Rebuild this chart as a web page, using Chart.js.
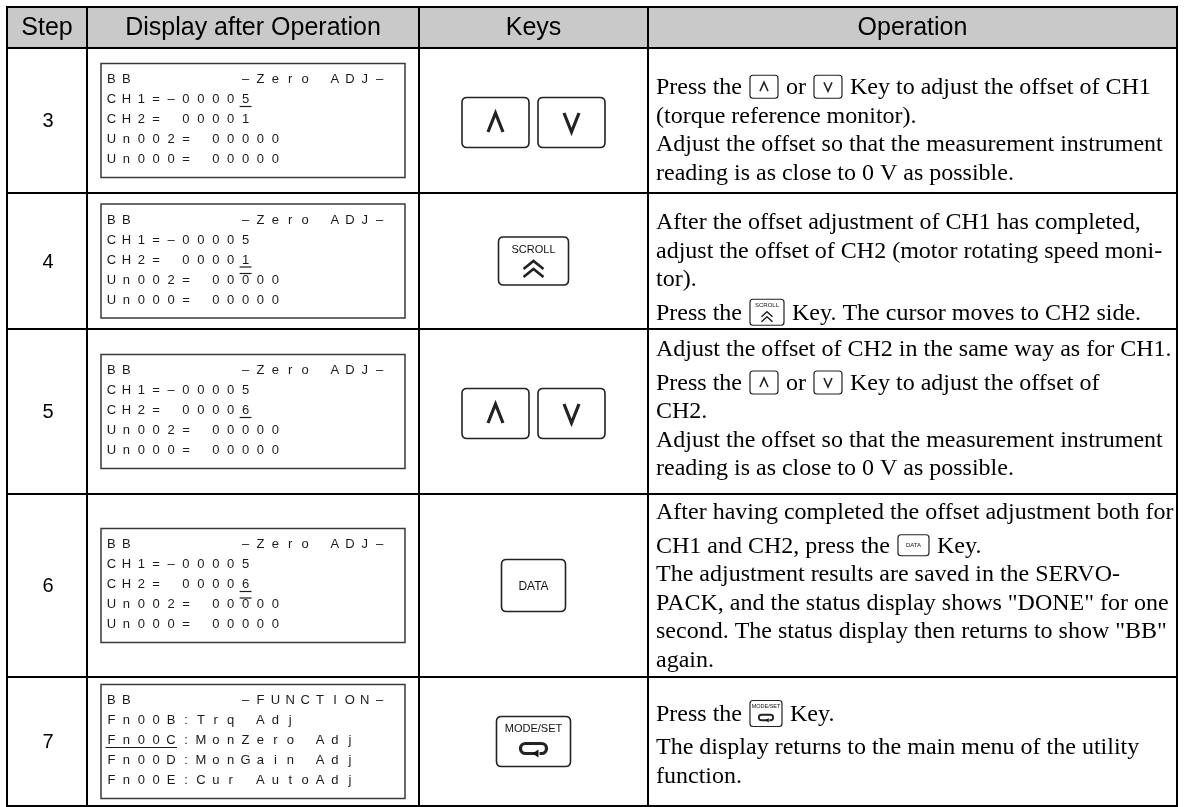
<!DOCTYPE html>
<html>
<head>
<meta charset="utf-8">
<script src="https://cdn.jsdelivr.net/npm/chart.js@4.4.0/dist/chart.umd.min.js"></script>
<style>
  html, body { margin: 0; padding: 0; background: #fff; }
  #wrap { width: 1184px; height: 807px; }
</style>
</head>
<body>
<div id="wrap"><canvas id="procChart" width="1184" height="807"></canvas></div>
<script>
// table content
const headers = ["Step", "Display after Operation", "Keys", "Operation"];
const steps = ["3", "4", "5", "6", "7"];

const displayLines = [
  ["BB       \u2013Zero ADJ\u2013", "CH1=\u201300005", "CH2= 00001", "Un002= 00000", "Un000= 00000"],
  ["BB       \u2013Zero ADJ\u2013", "CH1=\u201300005", "CH2= 00001", "Un002= 00000", "Un000= 00000"],
  ["BB       \u2013Zero ADJ\u2013", "CH1=\u201300005", "CH2= 00006", "Un002= 00000", "Un000= 00000"],
  ["BB       \u2013Zero ADJ\u2013", "CH1=\u201300005", "CH2= 00006", "Un002= 00000", "Un000= 00000"],
  ["BB       \u2013FUNCTION\u2013", "Fn00B:Trq Adj", "Fn00C:MonZero Adj", "Fn00D:MonGain Adj", "Fn00E:Cur AutoAdj"]
];

// cursor marks: [line, first char, last char, kind]
const cursorMarks = [
  [[1, 9, 9, "under"]],
  [[2, 9, 9, "under"], [3, 9, 9, "over"]],
  [[2, 9, 9, "under"]],
  [[2, 9, 9, "under"], [3, 9, 9, "over"]],
  [[2, 0, 4, "under"]]
];

const keys = [["up", "down"], ["scroll"], ["up", "down"], ["data"], ["mode"]];

// "¶" = small paragraph gap before the line, {KEY} = inline key icon
const operationLines = [
  ["Press the {up} or {down} Key to adjust the offset of CH1",
   "(torque reference monitor).",
   "Adjust the offset so that the measurement instrument",
   "reading is as close to 0 V as possible."],
  ["After the offset adjustment of CH1 has completed,",
   "adjust the offset of CH2 (motor rotating speed moni-",
   "tor).",
   "\u00b6Press the {scroll} Key. The cursor moves to CH2 side."],
  ["Adjust the offset of CH2 in the same way as for CH1.",
   "\u00b6Press the {up} or {down} Key to adjust the offset of",
   "CH2.",
   "Adjust the offset so that the measurement instrument",
   "reading is as close to 0 V as possible."],
  ["After having completed the offset adjustment both for",
   "\u00b6CH1 and CH2, press the {data} Key.",
   "The adjustment results are saved in the SERVO-",
   "PACK, and the status display shows \"DONE\" for one",
   "second. The status display then returns to show \"BB\"",
   "again."],
  ["Press the {mode} Key.",
   "\u00b6The display returns to the main menu of the utility",
   "function."]
];

// layout (chart units = pixels)
const colEdges = [7, 87, 419, 648, 1177];
const rowEdges = [7, 48, 193, 329, 494, 677, 806];
const textShift = [9, 6, -3, 0, 3];

const SANS = "'Liberation Sans', Arial, sans-serif";
const SERIF = "'Liberation Serif', 'Times New Roman', serif";

function rrect(ctx, x, y, w, h, r) {
    ctx.beginPath();
    ctx.moveTo(x + r, y);
    ctx.lineTo(x + w - r, y);
    ctx.quadraticCurveTo(x + w, y, x + w, y + r);
    ctx.lineTo(x + w, y + h - r);
    ctx.quadraticCurveTo(x + w, y + h, x + w - r, y + h);
    ctx.lineTo(x + r, y + h);
    ctx.quadraticCurveTo(x, y + h, x, y + h - r);
    ctx.lineTo(x, y + r);
    ctx.quadraticCurveTo(x, y, x + r, y);
    ctx.closePath();
}

function chevron(ctx, cx, cy, w, h, dir, lw) {
    ctx.beginPath();
    ctx.lineWidth = lw;
    ctx.lineJoin = "miter";
    ctx.moveTo(cx - w / 2, cy + dir * h / 2);
    ctx.lineTo(cx, cy - dir * h / 2);
    ctx.lineTo(cx + w / 2, cy + dir * h / 2);
    ctx.stroke();
}

function returnArrow(ctx, cx, cy, s, lw) {
    // loop with arrow head, like the MODE/SET symbol
    const w = 13 * s, h = 5 * s;
    ctx.lineWidth = lw;
    ctx.beginPath();
    ctx.moveTo(cx + 2 * s, cy + h);
    ctx.lineTo(cx - w + h, cy + h);
    ctx.arc(cx - w + h, cy, h, Math.PI / 2, Math.PI * 1.5);
    ctx.lineTo(cx + w - h, cy - h);
    ctx.arc(cx + w - h, cy, h, -Math.PI / 2, Math.PI / 2);
    ctx.lineTo(cx + 6 * s, cy + h);
    ctx.stroke();
    ctx.beginPath();
    ctx.moveTo(cx - 1 * s, cy + h);
    ctx.lineTo(cx + 5 * s, cy + h - 4 * s);
    ctx.lineTo(cx + 5 * s, cy + h + 4 * s);
    ctx.closePath();
    ctx.fill();
}

// big key in the Keys column
function drawKey(ctx, type, cx, cy) {
    ctx.save();
    ctx.strokeStyle = "#222";
    ctx.fillStyle = "#111";
    let w = 67, h = 50;
    if (type === "scroll") { w = 70; h = 48; }
    if (type === "data") { w = 64; h = 52; }
    if (type === "mode") { w = 74; h = 50; }
    rrect(ctx, cx - w / 2, cy - h / 2, w, h, 5);
    ctx.lineWidth = 1.6;
    ctx.stroke();
    ctx.textAlign = "center";
    ctx.textBaseline = "middle";
    if (type === "up") chevron(ctx, cx, cy, 15, 19, 1, 3.2);
    if (type === "down") chevron(ctx, cx, cy, 15, 19, -1, 3.2);
    if (type === "scroll") {
        ctx.font = "11px " + SANS;
        ctx.fillText("SCROLL", cx, cy - 11);
        chevron(ctx, cx, cy + 4, 20, 8, 1, 2.6);
        chevron(ctx, cx, cy + 12, 20, 8, 1, 2.6);
    }
    if (type === "data") {
        ctx.font = "12px " + SANS;
        ctx.fillText("DATA", cx, cy + 1);
    }
    if (type === "mode") {
        ctx.font = "11px " + SANS;
        ctx.fillText("MODE/SET", cx, cy - 13);
        returnArrow(ctx, cx, cy + 7, 1, 3.2);
    }
    ctx.restore();
}

// small key icon inside the text, returns its width
function drawInlineKey(ctx, type, x, cy) {
    let w = 28, h = 23;
    if (type === "scroll") { w = 34; h = 26; }
    if (type === "mode") { w = 32; h = 26; }
    if (type === "data") { w = 31; h = 21; }
    ctx.save();
    ctx.strokeStyle = "#222";
    ctx.fillStyle = "#111";
    rrect(ctx, x, cy - h / 2, w, h, 3);
    ctx.lineWidth = 1.2;
    ctx.stroke();
    const cx = x + w / 2;
    ctx.textAlign = "center";
    ctx.textBaseline = "middle";
    if (type === "up") chevron(ctx, cx, cy, 8, 9, 1, 1.6);
    if (type === "down") chevron(ctx, cx, cy, 8, 9, -1, 1.6);
    if (type === "scroll") {
        ctx.font = "6px " + SANS;
        ctx.fillText("SCROLL", cx, cy - 7);
        chevron(ctx, cx, cy + 2, 11, 5, 1, 1.6);
        chevron(ctx, cx, cy + 7, 11, 5, 1, 1.6);
    }
    if (type === "data") {
        ctx.font = "6px " + SANS;
        ctx.fillText("DATA", cx, cy);
    }
    if (type === "mode") {
        ctx.font = "5.5px " + SANS;
        ctx.fillText("MODE/SET", cx, cy - 7);
        returnArrow(ctx, cx, cy + 4, 0.55, 1.8);
    }
    ctx.restore();
    return w;
}

const tablePlugin = {
    id: "stepTable",
    afterDraw(chart) {
        const ctx = chart.ctx;
        const xs = chart.scales.x, ys = chart.scales.y;
        const X = v => xs.getPixelForValue(v);
        const Y = v => ys.getPixelForValue(v);
        const left = X(colEdges[0]), right = X(colEdges[colEdges.length - 1]);
        const top = Y(rowEdges[0]), bottom = Y(rowEdges[rowEdges.length - 1]);

        ctx.save();
        // header band
        ctx.fillStyle = "#c9c9c9";
        ctx.fillRect(left, top, right - left, Y(rowEdges[1]) - top);

        ctx.fillStyle = "#000";
        ctx.textBaseline = "middle";
        ctx.textAlign = "center";
        ctx.font = "25px " + SANS;
        headers.forEach((h, i) => {
            ctx.fillText(h, (X(colEdges[i]) + X(colEdges[i + 1])) / 2, (Y(rowEdges[0]) + Y(rowEdges[1])) / 2 + 1);
        });

        steps.forEach((step, r) => {
            const y0 = Y(rowEdges[r + 1]), y1 = Y(rowEdges[r + 2]);
            const cy = (y0 + y1) / 2;

            // step number
            ctx.fillStyle = "#000";
            ctx.textAlign = "center";
            ctx.font = "20px " + SANS;
            ctx.fillText(step, (X(colEdges[0]) + X(colEdges[1])) / 2 + 1, cy + 1);

            // operator display box
            const bx = X(colEdges[1]) + 14, bw = 304, bh = 114;
            const by = cy - bh / 2;
            ctx.strokeStyle = "#3a3a3a";
            ctx.lineWidth = 1.5;
            ctx.strokeRect(bx, by, bw, bh);
            const cell = 14.9;
            ctx.font = "13px " + SANS;
            ctx.fillStyle = "#1a1a1a";
            displayLines[r].forEach((line, li) => {
                const ly = by + 16 + li * 20;
                Array.from(line).forEach((ch, ci) => {
                    ctx.fillText(ch, bx + 3 + (ci + 0.5) * cell, ly);
                });
            });
            ctx.strokeStyle = "#1a1a1a";
            ctx.lineWidth = 1.2;
            cursorMarks[r].forEach(([li, a, b, kind]) => {
                const ly = by + 16 + li * 20 + (kind === "under" ? 7 : -6.5);
                ctx.beginPath();
                ctx.moveTo(bx + 3 + a * cell + 1.5, ly);
                ctx.lineTo(bx + 3 + (b + 1) * cell - 1.5, ly);
                ctx.stroke();
            });

            // keys
            const kx = (X(colEdges[2]) + X(colEdges[3])) / 2;
            if (keys[r].length === 2) {
                drawKey(ctx, keys[r][0], kx - 38, cy + 2);
                drawKey(ctx, keys[r][1], kx + 38, cy + 2);
            } else {
                drawKey(ctx, keys[r][0], kx, cy);
            }

            // operation text
            const lines = operationLines[r];
            const pitch = 28.5, gap = 5;
            let total = 0;
            lines.forEach((l, i) => { if (i > 0) total += pitch + (l[0] === "\u00b6" ? gap : 0); });
            let ly = cy - total / 2 + textShift[r];
            ctx.font = "24px " + SERIF;
            ctx.textAlign = "left";
            ctx.fillStyle = "#000";
            lines.forEach((l, i) => {
                if (i > 0) ly += pitch + (l[0] === "\u00b6" ? gap : 0);
                const text = l.replace("\u00b6", "");
                let x = X(colEdges[3]) + 8;
                text.split(/(\{\w+\})/).forEach(seg => {
                    const m = seg.match(/^\{(\w+)\}$/);
                    if (m) {
                        x += drawInlineKey(ctx, m[1], x + 2, ly) + 4;
                        ctx.font = "24px " + SERIF;
                        ctx.textAlign = "left";
                        ctx.fillStyle = "#000";
                    } else if (seg) {
                        ctx.fillText(seg, x, ly + 1);
                        x += ctx.measureText(seg).width;
                    }
                });
            });
        });

        // grid lines
        ctx.strokeStyle = "#000";
        ctx.lineWidth = 2;
        ctx.beginPath();
        colEdges.forEach(c => { ctx.moveTo(X(c), top); ctx.lineTo(X(c), bottom); });
        rowEdges.forEach(rw => { ctx.moveTo(left - 1, Y(rw)); ctx.lineTo(right + 1, Y(rw)); });
        ctx.stroke();
        ctx.restore();
    }
};

new Chart(document.getElementById("procChart"), {
    type: "scatter",
    data: { datasets: [] },
    options: {
        responsive: false,
        animation: false,
        events: [],
        layout: { padding: 0 },
        plugins: { legend: { display: false }, tooltip: { enabled: false } },
        scales: {
            x: { type: "linear", min: 0, max: 1184, display: false },
            y: { type: "linear", min: 0, max: 807, reverse: true, display: false }
        }
    },
    plugins: [tablePlugin]
});
</script>
</body>
</html>
